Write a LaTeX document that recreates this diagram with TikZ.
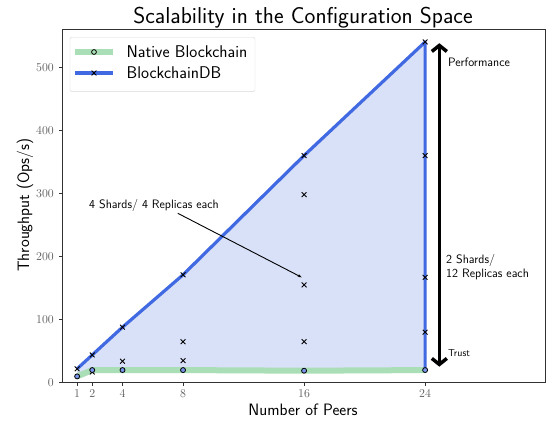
\documentclass[tikz,border=0pt]{standalone}
\usetikzlibrary{arrows.meta,calc}

\definecolor{dbblue}{RGB}{65,105,225}
\definecolor{areablue}{RGB}{217,225,248}
\definecolor{nativegreen}{RGB}{170,222,182}
\definecolor{framegray}{RGB}{50,50,50}

\newcommand{\xmarker}[1]{\draw[black, line width=0.9pt] (#1) +(-2.4pt,-2.4pt) -- +(2.4pt,2.4pt) +(-2.4pt,2.4pt) -- +(2.4pt,-2.4pt);}
\newcommand{\omarker}[1]{\draw[black, fill=dbblue!70, line width=0.8pt] (#1) circle (2.5pt);}

\begin{document}
\begin{tikzpicture}[x=1pt,y=1pt,
	titlefont/.style={font=\sffamily\fontsize{23}{26}\selectfont},
	axislabel/.style={font=\sffamily\fontsize{16.5}{19}\selectfont},
	legendtext/.style={font=\sffamily\fontsize{17}{19}\selectfont, anchor=west, inner sep=0pt},
	ticklabel/.style={font=\fontsize{12}{13}\selectfont, text=black!65, inner sep=0pt},
	notetext/.style={font=\sffamily\fontsize{12.2}{13.8}\selectfont, align=left, inner sep=0pt},
	dbline/.style={dbblue, line width=3.2pt, line join=round},
	nativeline/.style={nativegreen, line width=6pt, line join=round}
]
\useasboundingbox (0,0) rectangle (552,422);

% Titel
\node[titlefont] (title) at (303,404) {Scalability in the Configuration Space};

\begin{scope}[shift={(62pt,39.3pt)}, x=15.13pt, y=0.631pt]

% Daten
\coordinate (db1) at (1,22);
\coordinate (db2) at (2,44);
\coordinate (db4) at (4,88);
\coordinate (db8) at (8,171);
\coordinate (db16) at (16,360);
\coordinate (db24) at (24,540);
\coordinate (nb1) at (1,10);
\coordinate (nb2) at (2,20);
\coordinate (nb4) at (4,20);
\coordinate (nb8) at (8,20);
\coordinate (nb16) at (16,19);
\coordinate (nb24) at (24,20);

% Flaeche
\fill[areablue] (db1) -- (db2) -- (db4) -- (db8) -- (db16) -- (db24) -- (nb24) -- (nb16) -- (nb8) -- (nb4) -- (nb2) -- (nb1) -- cycle;

\draw[nativeline] (nb1) -- (nb2) -- (nb4) -- (nb8) -- (nb16) -- (nb24);
\draw[dbline] (db1) -- (db2) -- (db4) -- (db8) -- (db16) -- (db24) -- (nb24);

% Achsen
\draw[framegray, line width=0.9pt] (0,0) rectangle (31.92,560.5);
\foreach \t in {1,2,4,8,16,24} {
	\draw[framegray, line width=0.8pt] (\t,0) -- ++(0,-3.5pt);
	\node[ticklabel, anchor=north] (xt\t) at (\t,0) [yshift=-7pt] {\t};
}
\foreach \t in {0,100,200,300,400,500} {
	\draw[framegray, line width=0.8pt] (0,\t) -- ++(-3.5pt,0);
	\node[ticklabel, anchor=east] (yt\t) at (0,\t) [xshift=-8pt] {\t};
}

% Konfigurationen
\foreach \px/\py in {1/22,2/44,2/17,4/88,4/34,8/171,8/65,8/35,16/360,16/298,16/155,16/65,24/540,24/360,24/167,24/80} {
	\xmarker{\px,\py}
}
\foreach \px/\py in {1/10,2/20,4/20,8/20,16/19,24/20} {
	\omarker{\px,\py}
}

% Beschriftung
\node[notetext] (shards4) at (6.08,281.6) {4 Shards/ 4 Replicas each};
\coordinate (shardsfrom) at (7.65,268.5);
\coordinate (shardsto) at (15.84,167);
\draw[-{Stealth[length=4pt,width=3pt]}, line width=0.9pt] (shardsfrom) -- (shardsto);

\coordinate (perf) at (24.94,538);
\coordinate (trust) at (24.94,25.4);
\draw[{Straight Barb[length=6pt,width=15pt]}-{Straight Barb[length=6pt,width=15pt]}, line width=3.5pt] (perf) -- (trust);
\node[notetext, anchor=west] (perflabel) at (25.5,508) {Performance};
\node[notetext, anchor=west, font=\sffamily\fontsize{10}{12}\selectfont] (trustlabel) at (25.5,47) {Trust};
\node[notetext, anchor=west] (shards2) at (25.38,182.6) {2 Shards/\\12 Replicas each};
\end{scope}

% Legende
\draw[black!15, fill=white, rounded corners=2pt] (70,384.7) rectangle (255,330.3) node[pos=0, inner sep=0pt] (legend) {};
\coordinate (lgA1) at (75,370);
\coordinate (lgA2) at (113,370);
\coordinate (lgB1) at (75,349);
\coordinate (lgB2) at (113,349);
\draw[nativeline] (lgA1) -- (lgA2);
\draw[black, line width=0.8pt] ($(lgA1)!0.5!(lgA2)$) circle (2.4pt);
\draw[dbline] (lgB1) -- (lgB2);
\xmarker{$(lgB1)!0.5!(lgB2)$}
\node[legendtext] (lgnative) at (126.5,370) {Native Blockchain};
\node[legendtext] (lgdb) at (126.5,349) {BlockchainDB};

% Achsenbeschriftung
\node[axislabel] (xlabel) at (303,12) {Number of Peers};
\node[axislabel, rotate=90] (ylabel) at (25,217) {Throughput (Ops/s)};

\end{tikzpicture}
\end{document}
